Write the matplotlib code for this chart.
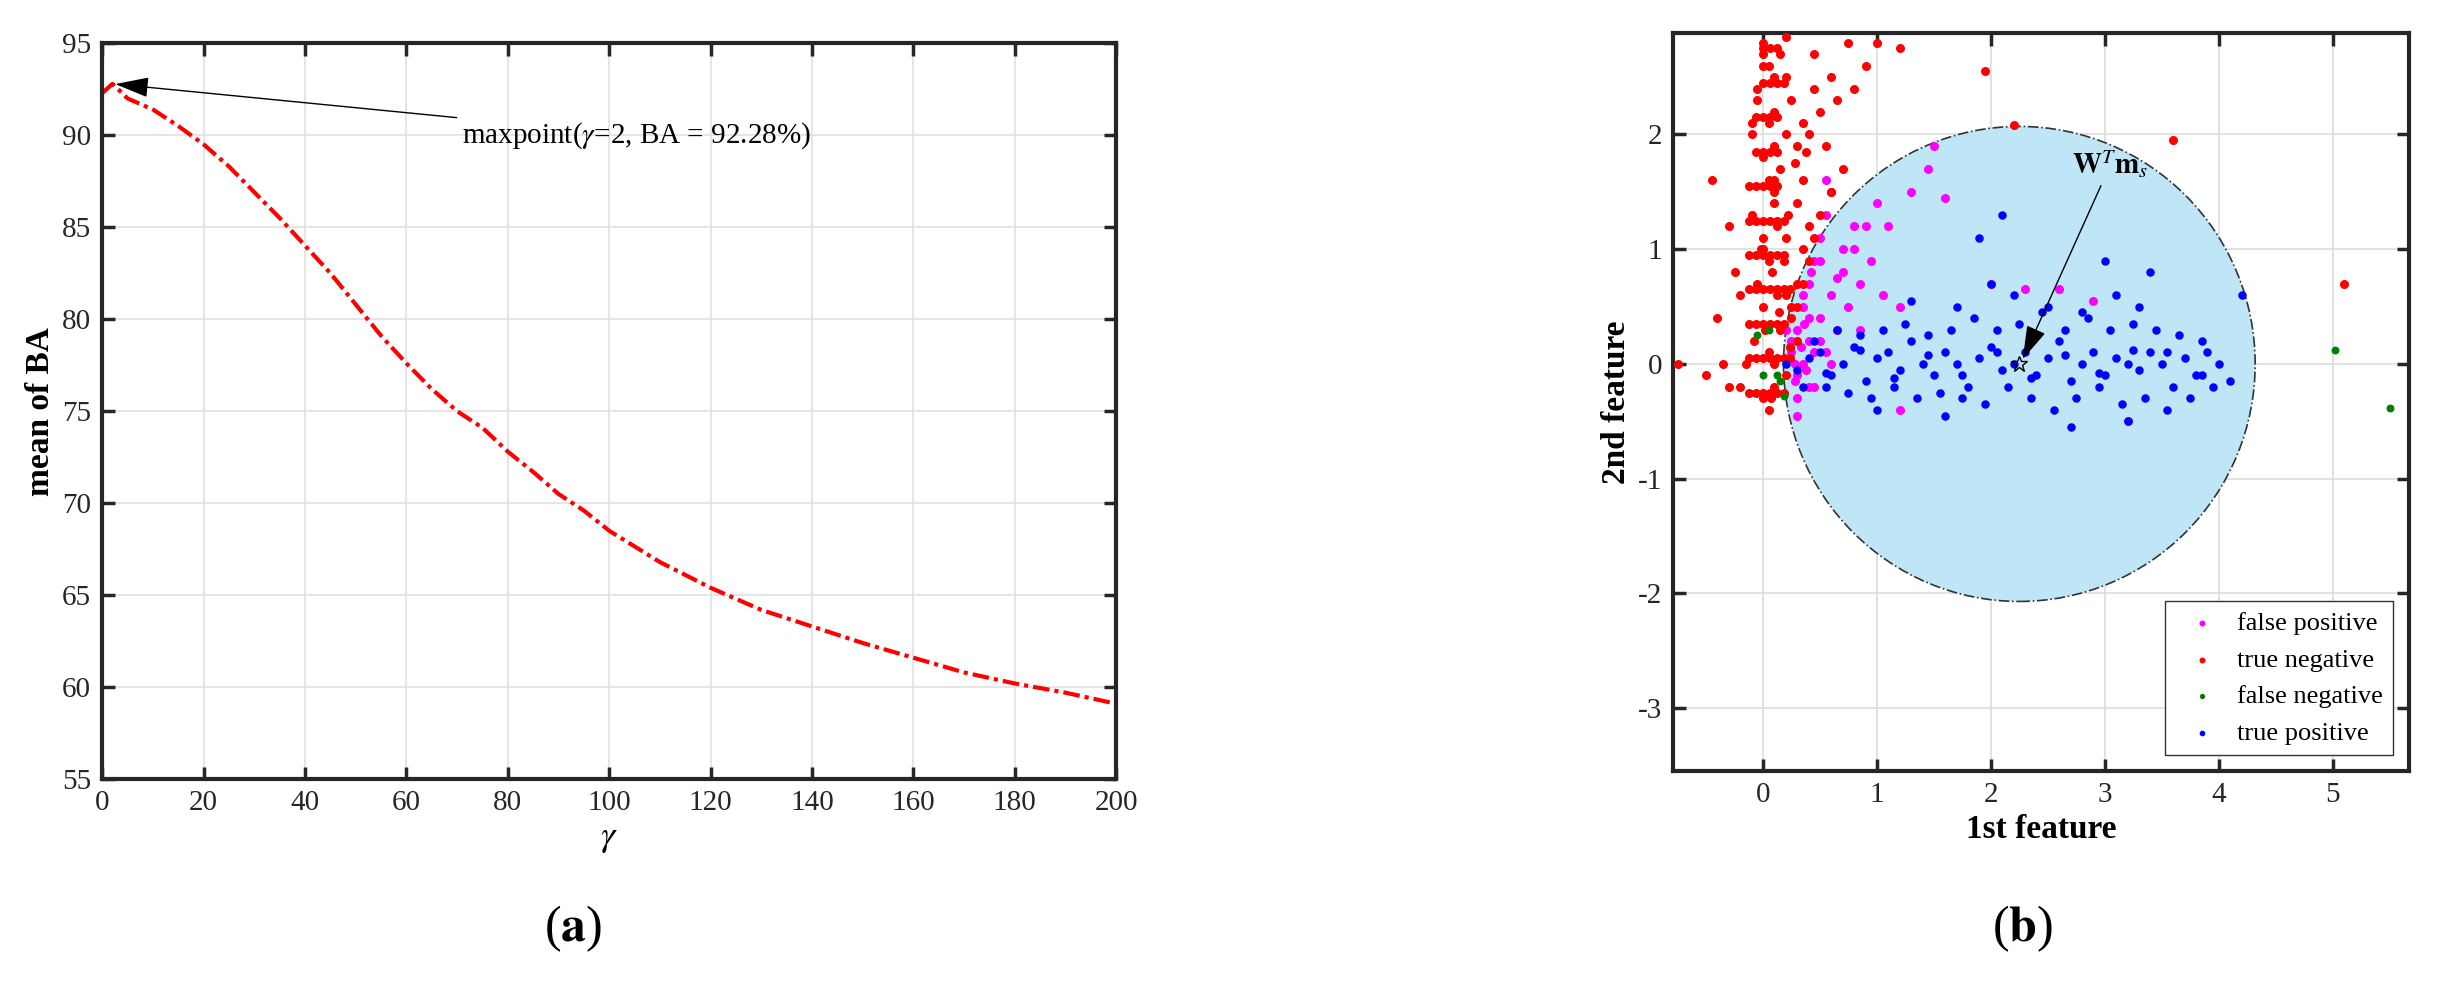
import matplotlib
matplotlib.use("Agg")
import matplotlib.pyplot as plt
from matplotlib.patches import Ellipse

plt.rcParams["font.family"] = ["Liberation Serif", "DejaVu Serif"]
plt.rcParams["mathtext.fontset"] = "stix"
plt.rcParams["axes.unicode_minus"] = False

# panel (a): mean BA vs gamma
gamma = [0, 2, 5, 10, 15, 20, 25, 30, 35, 40, 45, 50, 55, 60, 65, 70, 75, 80, 85, 90,
         95, 100, 110, 120, 130, 140, 150, 160, 170, 180, 190, 200]
mean_ba = [92.3, 92.8, 92.0, 91.4, 90.5, 89.5, 88.3, 86.9, 85.5, 84.0, 82.5, 80.8, 79.1, 77.6,
           76.2, 75.0, 74.1, 72.8, 71.7, 70.5, 69.6, 68.5, 66.8, 65.4, 64.2, 63.3, 62.4, 61.6,
           60.8, 60.2, 59.7, 59.1]

# panel (b): 2-D projected features
tn_x = [0.0, 0.05, -0.05, 0.1, 0.15, 0.2, -0.1, 0.0, 0.05, 0.1, 0.12, -0.02, 0.08, 0.2, 0.25,
        0.3, -0.15, -0.2, 0.0, 0.1, 0.05, 0.15, 0.25, 0.35, 0.4, 0.45, 0.5, 0.6, 0.7, 0.3,
        0.05, -0.05, 0.1, 0.0, 0.2, 0.15, 0.1, -0.1, 0.0, 0.05, 0.3, 0.4, 0.55, 0.65, 0.9,
        1.0, 1.2, 0.8, 0.5, 0.2, -0.3, -0.45, -0.4, -0.35, -0.5, -0.25, -0.3, 0.0, 0.1, 0.2,
        0.05, -0.08, 0.12, 0.18, 0.22, 0.0, 0.1, -0.05, 0.02, 0.14, 0.07, 0.24, 0.3, 0.35,
        -0.2, -0.1, 0.0, 0.1, 0.2, 0.3, 1.95, 2.2, 3.6, 5.1, -0.75, 0.4, 0.6, 0.45, 0.35, 0.75,
        -0.12, -0.06, 0.0, 0.06, 0.12, 0.18, -0.12, -0.06, 0.0, 0.06, 0.12, 0.18, 0.24,
        -0.12, -0.06, 0.0, 0.06, 0.12, 0.18, -0.12, -0.06, 0.0, 0.06, 0.12, 0.18, 0.24,
        -0.12, -0.06, 0.0, 0.06, 0.12, 0.18, -0.12, -0.06, 0.0, 0.06, 0.12, 0.18,
        -0.12, -0.06, 0.0, 0.06, 0.12, -0.06, 0.0, 0.06, 0.12, -0.06, 0.0, 0.06, 0.12,
        0.0, 0.06, 0.12, 0.18, 0.0, 0.06, 0.12, 0.25, 0.35, 0.45, 0.28, 0.38]
tn_y = [2.8, 2.6, 2.4, 2.2, 2.7, 2.5, 2.0, 1.8, 1.6, 1.4, 1.2, 1.0, 0.8, 0.6, 0.4,
        0.2, 0.0, -0.2, -0.3, -0.2, 0.1, 0.3, 0.5, 0.7, 0.9, 1.1, 1.3, 1.5, 1.7, 1.9,
        2.1, 2.3, 2.5, 2.7, 2.85, 1.7, 1.5, 1.3, 1.1, 0.9, 0.7, 1.2, 1.9, 2.3, 2.6,
        2.8, 2.75, 2.4, 2.2, 2.0, 1.2, 1.6, 0.4, 0.0, -0.1, 0.8, -0.2, 0.5, 0.0, -0.1,
        -0.4, 0.2, 0.6, 0.9, 1.3, 1.0, 1.6, 0.7, 0.3, 0.45, -0.3, 0.15, 0.5, 1.0,
        0.6, 2.1, 2.6, 1.9, 1.1, 1.4, 2.55, 2.08, 1.95, 0.7, 0.0, 2.0, 2.5, 2.7, 1.6, 2.8,
        -0.25, -0.25, -0.25, -0.25, -0.25, -0.25, 0.05, 0.05, 0.05, 0.05, 0.05, 0.05, 0.05,
        0.35, 0.35, 0.35, 0.35, 0.35, 0.35, 0.65, 0.65, 0.65, 0.65, 0.65, 0.65, 0.65,
        0.95, 0.95, 0.95, 0.95, 0.95, 0.95, 1.25, 1.25, 1.25, 1.25, 1.25, 1.25,
        1.55, 1.55, 1.55, 1.55, 1.55, 1.85, 1.85, 1.85, 1.85, 2.15, 2.15, 2.15, 2.15,
        2.45, 2.45, 2.45, 2.45, 2.75, 2.75, 2.75, 2.3, 2.1, 2.4, 1.75, 1.85]
fp_x = [0.25, 0.3, 0.35, 0.4, 0.45, 0.5, 0.55, 0.6, 0.3, 0.35, 0.4, 0.5, 0.6, 0.7, 0.8,
        0.9, 1.0, 0.45, 0.55, 0.65, 0.75, 0.85, 0.95, 1.1, 1.3, 1.45, 1.6, 0.7, 0.8, 0.5,
        0.3, 0.25, 0.35, 0.4, 0.6, 1.2, 1.05, 0.85, 2.0, 2.3, 2.6, 1.2, 0.3, 0.4, 0.2,
        1.5, 2.9, 3.2, 0.55, 0.65, 0.28, 0.33, 0.38, 0.45, 0.28, 0.36, 0.5, 0.42]
fp_y = [0.1, 0.3, 0.5, 0.7, 0.9, 1.1, 1.3, 1.5, -0.1, 0.0, 0.2, 0.4, 0.6, 0.8, 1.0,
        1.2, 1.4, -0.2, 0.1, 0.3, 0.5, 0.7, 0.9, 1.2, 1.5, 1.7, 1.45, 1.0, 1.2, 0.9,
        -0.3, 0.2, 0.6, 0.4, 0.0, 0.5, 0.6, 0.3, 0.7, 0.65, 0.65, -0.4, -0.45, -0.2, 0.3,
        1.9, 0.55, -0.5, 1.6, 0.75, 0.0, 0.15, -0.05, 0.1, -0.15, 0.35, 0.2, 0.8]
fn_x = [0.05, 0.12, 0.15, 0.0, 0.18, 5.02, 5.5, -0.05]
fn_y = [0.3, -0.1, -0.15, -0.1, -0.28, 0.12, -0.38, 0.25]
tp_x = [0.2, 0.3, 0.4, 0.5, 0.6, 0.7, 0.8, 0.9, 1.0, 1.1, 1.2, 1.3, 1.4, 1.5, 1.6, 1.7, 1.8,
        1.9, 2.0, 2.1, 2.2, 2.3, 2.4, 2.5, 2.6, 2.7, 2.8, 2.9, 3.0, 3.1, 3.2, 3.3, 3.4, 3.5,
        3.6, 3.7, 3.8, 3.9, 4.0, 4.1, 0.35, 0.55, 0.75, 0.95, 1.15, 1.35, 1.55, 1.75, 1.95,
        2.15, 2.35, 2.55, 2.75, 2.95, 3.15, 3.35, 3.55, 3.75, 3.95, 0.45, 0.65, 0.85, 1.05,
        1.25, 1.45, 1.65, 1.85, 2.05, 2.25, 2.45, 2.65, 2.85, 3.05, 3.25, 3.45, 3.65, 3.85,
        1.3, 1.7, 2.2, 2.5, 2.8, 3.1, 3.3, 1.0, 1.6, 2.7, 3.2, 3.0, 3.4, 1.9, 2.0, 2.1, 4.2,
        0.55, 0.85, 1.15, 1.45, 1.75, 2.05, 2.35, 2.65, 2.95, 3.25, 3.55, 3.85]
tp_y = [0.0, -0.05, 0.05, 0.1, -0.1, 0.0, 0.15, -0.15, 0.05, 0.1, -0.05, 0.2, 0.0, -0.1,
        0.1, 0.0, -0.2, 0.05, 0.15, -0.05, 0.0, 0.1, -0.1, 0.05, 0.2, -0.15, 0.0, 0.1,
        -0.1, 0.05, 0.0, -0.05, 0.1, 0.0, -0.2, 0.05, -0.1, 0.1, 0.0, -0.15, -0.2, -0.2,
        -0.25, -0.3, -0.2, -0.3, -0.25, -0.3, -0.35, -0.2, -0.3, -0.4, -0.3, -0.2, -0.35,
        -0.3, -0.4, -0.3, -0.2, 0.2, 0.3, 0.25, 0.3, 0.35, 0.25, 0.3, 0.4, 0.3, 0.35, 0.45,
        0.3, 0.4, 0.3, 0.35, 0.3, 0.25, 0.2, 0.55, 0.5, 0.6, 0.5, 0.45, 0.6, 0.5, -0.4,
        -0.45, -0.55, -0.5, 0.9, 0.8, 1.1, 0.7, 1.3, 0.6,
        -0.08, 0.12, -0.12, 0.08, -0.1, 0.1, -0.12, 0.08, -0.08, 0.12, 0.1, -0.1]

fig = plt.figure(figsize=(24.37, 9.85), dpi=100)

ax1 = fig.add_axes([0.042, 0.209, 0.416, 0.747])
ax1.plot(gamma, mean_ba, color="red", ls=(0, (4, 1.2, 1, 1.2)), lw=3)
ax1.set_xlim(0, 200)
ax1.set_ylim(55, 95)
ax1.set_xticks(range(0, 201, 20))
ax1.set_yticks(range(55, 96, 5))
ax1.grid(color="#e0e0e0", lw=1.2)
ax1.set_xlabel(r"$\gamma$", fontsize=26)
ax1.set_ylabel("mean of BA", fontsize=24, fontweight="bold")
ax1.annotate(r"maxpoint($\gamma$=2, BA = 92.28%)", xy=(2, 92.8), xytext=(71, 90),
             fontsize=21, va="center",
             arrowprops=dict(arrowstyle="-|>,head_length=1.0,head_width=0.3", color="black", lw=1))

ax2 = fig.add_axes([0.6865, 0.217, 0.302, 0.749])
ax2.add_patch(Ellipse((2.25, 0.0), 4.14, 4.14, facecolor="#bfe6f6", edgecolor="#333333",
                      ls="-.", lw=1.2, zorder=1))
ax2.scatter(fp_x, fp_y, s=30, color="magenta", label="false positive", zorder=3)
ax2.scatter(tn_x, tn_y, s=30, color="red", label="true negative", zorder=3)
ax2.scatter(fn_x, fn_y, s=22, color="green", label="false negative", zorder=4)
ax2.scatter(tp_x, tp_y, s=26, color="blue", label="true positive", zorder=3)
ax2.plot([2.25], [0.0], marker="*", mfc="none", mec="black", ms=12, zorder=5)
ax2.annotate(r"$\mathbf{W}^{T}\mathbf{m}_{s}$", xy=(2.27, 0.02), xytext=(3.05, 1.6),
             fontsize=21, ha="center", va="bottom",
             arrowprops=dict(arrowstyle="-|>,head_length=1.0,head_width=0.3", color="black", lw=1))
ax2.set_xlim(-0.79, 5.67)
ax2.set_ylim(-3.55, 2.88)
ax2.set_xticks(range(0, 6))
ax2.set_yticks(range(-3, 3))
ax2.grid(color="#dddddd", lw=1.2)
ax2.set_xlabel("1st feature", fontsize=24, fontweight="bold")
ax2.set_ylabel("2nd feature", fontsize=24, fontweight="bold")
leg = ax2.legend(loc="lower right", fontsize=19, markerscale=0.6, handletextpad=0.3,
                 fancybox=False, edgecolor="#333333", framealpha=1, borderaxespad=0.6)

for ax in (ax1, ax2):
    for sp in ax.spines.values():
        sp.set_linewidth(3)
        sp.set_color("#262626")
    ax.tick_params(labelsize=21, direction="in", length=9, width=2.5, top=True, right=True,
                   colors="#262626", pad=8)
    ax.set_axisbelow(True)

fig.text(0.235, 0.045, r"($\mathbf{a}$)", fontsize=36, ha="center")
fig.text(0.83, 0.045, r"($\mathbf{b}$)", fontsize=36, ha="center")

fig.savefig("out.png", dpi=100)
